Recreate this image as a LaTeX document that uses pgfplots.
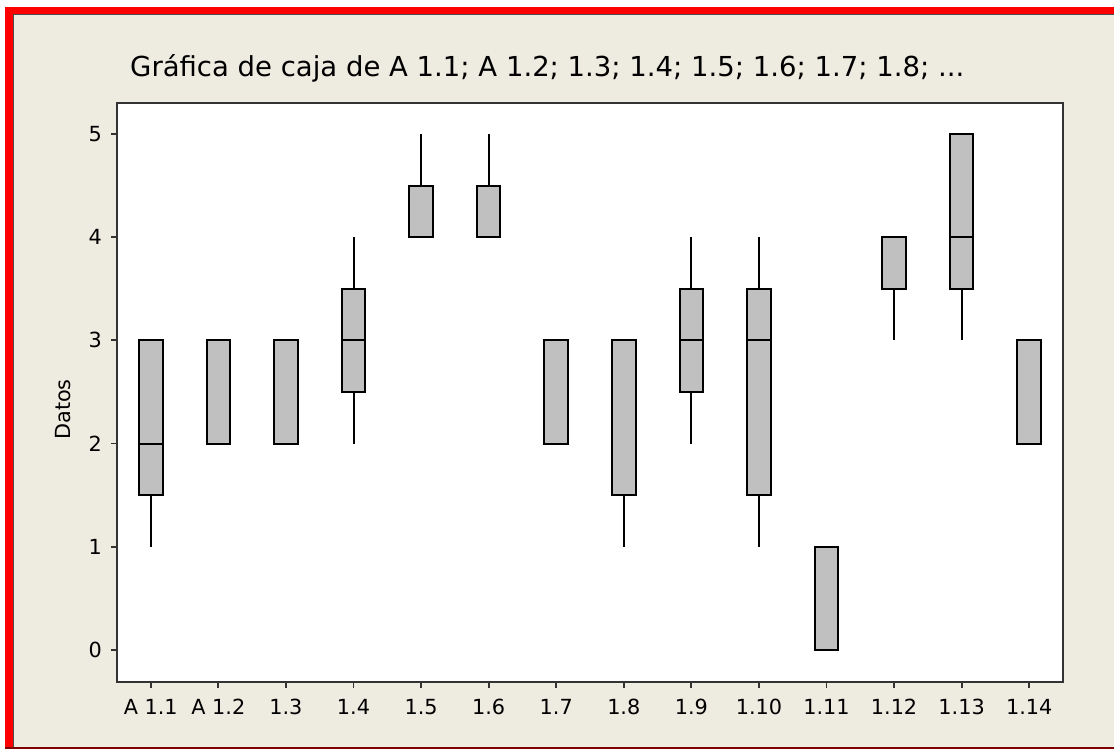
\documentclass[border=0pt]{standalone}
\usepackage{pgfplots}
\pgfplotsset{compat=1.18}
\usepgfplotslibrary{statistics}
\usepackage{fontspec}
\setmainfont{DejaVu Sans}
\definecolor{beige}{HTML}{EEEBE1}
\definecolor{boxgray}{HTML}{C0C0C0}
\definecolor{axgray}{HTML}{333333}
\definecolor{framered}{HTML}{FF0000}
\begin{document}
\begin{tikzpicture}[x=1pt,y=1pt]
\useasboundingbox (0,0) rectangle (1114,749);
\fill[white] (0,0) rectangle (1114,749);
\fill[beige] (13,0) rectangle (1114,734);
\fill[framered] (5,734) rectangle (1114,742);
\fill[framered] (5,0) rectangle (13,742);
\draw[black!70, line width=1pt] (13,0) -- (13,734) -- (1114,734);
\fill[black!50!red] (5,0) rectangle (1114,2);
\begin{axis}[
  at={(117pt,67pt)}, anchor=south west,
  width=946pt, height=579pt, scale only axis,
  xmin=-0.5, xmax=13.5, ymin=-0.31, ymax=5.30,
  axis background/.style={fill=white},
  axis line style={axgray, line width=2.2pt},
  tick align=outside, major tick length=6pt,
  tick style={axgray, line width=1.8pt},
  xtick pos=bottom, ytick pos=left,
  xtick={0,1,2,3,4,5,6,7,8,9,10,11,12,13},
  xticklabels={A 1.1,A 1.2,1.3,1.4,1.5,1.6,1.7,1.8,1.9,1.10,1.11,1.12,1.13,1.14},
  ytick={0,1,2,3,4,5},
  /pgf/number format/assume math mode=true,
  ticklabel style={font=\fontsize{20.8}{24}\selectfont, inner sep=0pt},
  xticklabel style={anchor=north, yshift=-11pt},
  yticklabel style={anchor=east, xshift=-9pt},
  boxplot/draw direction=y,
  boxplot/box extend=0.35,
  boxplot/whisker extend=0,
  boxplot/every box/.style={draw=black, fill=boxgray, line width=2pt},
  boxplot/every whisker/.style={draw=black, line width=2pt},
  boxplot/every median/.style={draw=black, line width=2pt},
  bx/.style={draw=black, solid, mark=none, line width=2pt},
]
\addplot[bx, boxplot prepared={draw position=0, lower whisker=1, lower quartile=1.5, median=2, upper quartile=3, upper whisker=3}] coordinates {};
\addplot[bx, boxplot prepared={draw position=1, lower whisker=2, lower quartile=2, median=3, upper quartile=3, upper whisker=3}] coordinates {};
\addplot[bx, boxplot prepared={draw position=2, lower whisker=2, lower quartile=2, median=3, upper quartile=3, upper whisker=3}] coordinates {};
\addplot[bx, boxplot prepared={draw position=3, lower whisker=2, lower quartile=2.5, median=3, upper quartile=3.5, upper whisker=4}] coordinates {};
\addplot[bx, boxplot prepared={draw position=4, lower whisker=4, lower quartile=4, median=4, upper quartile=4.5, upper whisker=5}] coordinates {};
\addplot[bx, boxplot prepared={draw position=5, lower whisker=4, lower quartile=4, median=4, upper quartile=4.5, upper whisker=5}] coordinates {};
\addplot[bx, boxplot prepared={draw position=6, lower whisker=2, lower quartile=2, median=3, upper quartile=3, upper whisker=3}] coordinates {};
\addplot[bx, boxplot prepared={draw position=7, lower whisker=1, lower quartile=1.5, median=3, upper quartile=3, upper whisker=3}] coordinates {};
\addplot[bx, boxplot prepared={draw position=8, lower whisker=2, lower quartile=2.5, median=3, upper quartile=3.5, upper whisker=4}] coordinates {};
\addplot[bx, boxplot prepared={draw position=9, lower whisker=1, lower quartile=1.5, median=3, upper quartile=3.5, upper whisker=4}] coordinates {};
\addplot[bx, boxplot prepared={draw position=10, lower whisker=0, lower quartile=0, median=0, upper quartile=1, upper whisker=1}] coordinates {};
\addplot[bx, boxplot prepared={draw position=11, lower whisker=3, lower quartile=3.5, median=4, upper quartile=4, upper whisker=4}] coordinates {};
\addplot[bx, boxplot prepared={draw position=12, lower whisker=3, lower quartile=3.5, median=4, upper quartile=5, upper whisker=5}] coordinates {};
\addplot[bx, boxplot prepared={draw position=13, lower whisker=2, lower quartile=2, median=3, upper quartile=3, upper whisker=3}] coordinates {};
\end{axis}
\node[anchor=base west, inner sep=0pt, font=\fontsize{27.5}{32}\selectfont] at (130,672) {Gráfica de caja de A 1.1; A 1.2; 1.3; 1.4; 1.5; 1.6; 1.7; 1.8; ...};
\node[rotate=90, anchor=base, inner sep=0pt, font=\fontsize{20.8}{24}\selectfont] at (70,339.5) {Datos};
\end{tikzpicture}
\end{document}
